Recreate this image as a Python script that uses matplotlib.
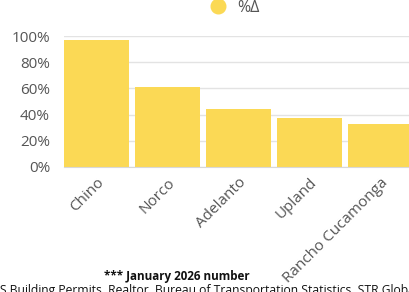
import matplotlib.pyplot as plt
from matplotlib.lines import Line2D
from matplotlib.ticker import PercentFormatter

# data
cities = ["Chino", "Norco", "Adelanto", "Upland", "Rancho Cucamonga"]
pct_change = [0.97, 0.61, 0.44, 0.374, 0.33]
series_name = "%\u0394"

plt.rcParams['font.family'] = ['Open Sans', 'DejaVu Sans']

fig = plt.figure(figsize=(4.09, 2.92), dpi=100)
ax = fig.add_axes([64 / 409, 1 - 167 / 292, 355 / 409, 131 / 292])

ax.bar(range(len(cities)), pct_change, width=0.915, color='#fbd955', zorder=2)

ax.set_xlim(-0.458, len(cities) - 0.458)
ax.set_ylim(0, 1.0)
ax.set_yticks([0, 0.2, 0.4, 0.6, 0.8, 1.0])
ax.yaxis.set_major_formatter(PercentFormatter(1.0, decimals=0))
ax.grid(axis='y', color='#e3e3e3', linewidth=1, zorder=0)
ax.set_axisbelow(True)
for s in ['top', 'right', 'left']:
    ax.spines[s].set_visible(False)
ax.spines['bottom'].set_color('#d8d8d8')

ax.tick_params(axis='y', length=0, pad=10, labelsize=11, labelcolor='#555555')
ax.tick_params(axis='x', length=0, pad=6, labelsize=11, labelcolor='#555555')
ax.set_xticks(range(len(cities)))
ax.set_xticklabels(cities, rotation=45, ha='right', rotation_mode='anchor')

# legend at the top, partly cut off like the source
handle = Line2D([], [], marker='o', linestyle='none', markersize=10.5,
                markerfacecolor='#fbd955', markeredgecolor='#fbd955')
fig.legend(handles=[handle], labels=[series_name], loc='center', bbox_to_anchor=(0.565, 1 - 8 / 292),
           frameon=False, fontsize=11.5, handletextpad=0.2, labelcolor='#555555')

fig.text(177 / 409, 1 - 276.5 / 292, "*** January 2026 number", ha='center', va='center',
         fontsize=8.4, fontweight='bold', color='#111111')
fig.text(-9 / 409, 1 - 290.5 / 292, "US Building Permits, Realtor, Bureau of Transportation Statistics, STR Global",
         ha='left', va='center', fontsize=8.7, color='#111111')

fig.savefig('out.png', dpi=100)
